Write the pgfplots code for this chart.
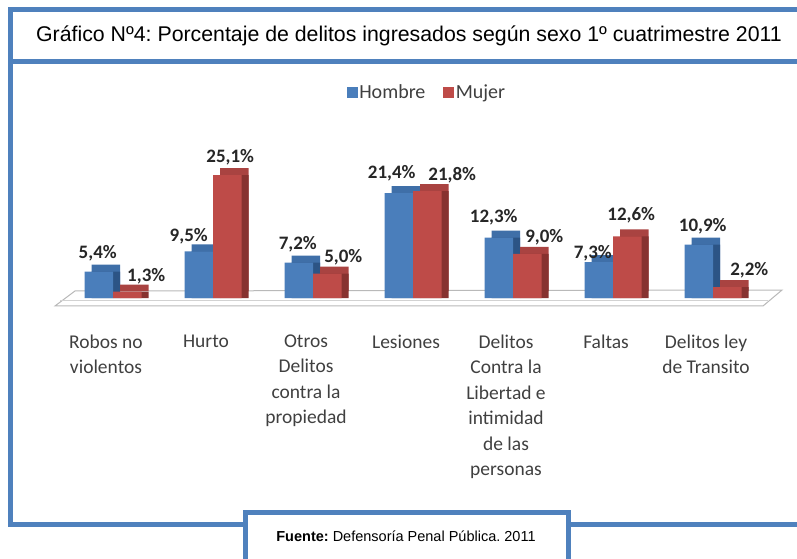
\documentclass[border=0pt]{standalone}
\usepackage{fontspec}
\usepackage{pgfplots}
\usepackage{pgfplotstable}
\pgfplotsset{compat=1.18}
\setmainfont{Liberation Sans}
\newfontfamily\calfont{Carlito}
\frenchspacing

\definecolor{frame}{HTML}{4F81BD}
\definecolor{hfront}{HTML}{4A7EBB}
\definecolor{htop}{HTML}{3F6FA8}
\definecolor{hside}{HTML}{2C5485}
\definecolor{mfront}{HTML}{BE4B48}
\definecolor{mtop}{HTML}{A94341}
\definecolor{mside}{HTML}{873230}
\definecolor{lbl}{HTML}{404040}

\pgfplotstableread{
x y dx dy
0 5.4 -1 18
1 9.5 -10 15
2 7.2 -1 18
3 21.4 -7 20
4 12.3 -5 20
5 7.3 -6 9
6 10.9 4 18
}\hombre
\pgfplotstableread{
x y dx dy
0 1.3 19 15
1 25.1 3 18
2 5.0 16 16
3 21.8 25 16
4 9.0 17 17
5 12.6 4 21
6 2.2 22 17
}\mujer

\pgfplotsset{
  vlabel/.style={draw=none, mark=none, forget plot, point meta=explicit,
    nodes near coords={\pgfmathprintnumber[fixed, fixed zerofill, precision=1, use comma, assume math mode=true]{\pgfplotspointmeta}\%},
    every node near coord/.append style={anchor=center, font=\calfont\bfseries\fontsize{19}{19}\selectfont, text=black!85, inner sep=0pt}},
}

\begin{document}
\begin{tikzpicture}
\useasboundingbox (0,0) rectangle (797pt,558pt);
\fill[white] (0,0) rectangle (797pt,558pt);
% frame
\draw[frame, line width=5pt] (797pt,548pt) -- (10pt,548pt) -- (10pt,34pt) -- (797pt,34pt);
\draw[frame, line width=5pt] (10pt,496pt) -- (797pt,496pt);
\node[font=\fontsize{21.3}{21.3}\selectfont, inner sep=0pt] at (409pt,522pt) {Gráfico Nº4: Porcentaje de delitos ingresados según sexo 1º cuatrimestre 2011};

\begin{axis}[
  x=100pt, y=4.9pt,
  at={(53pt,250.2pt)}, anchor=south west,
  xmin=-0.6, xmax=6.75, ymin=-2, ymax=30,
  clip=false,
  axis line style={draw=none},
  major tick length=0pt,
  ytick=\empty,
  xtick={0,...,6},
  xticklabels={{Robos no\\violentos},{Hurto},{Otros\\Delitos\\contra la\\propiedad},{Lesiones},{Delitos\\Contra la\\Libertad e\\intimidad\\de las\\personas},{Faltas},{Delitos ley\\de Transito}},
  xticklabel style={font=\calfont\fontsize{19.5}{25.5}\selectfont, text=lbl, align=center, anchor=north, yshift=-23.5pt, xshift=-7pt},
  bar width=0.285,
  legend style={at={(axis cs:3.14,42)}, anchor=center, draw=none, fill=none,
    legend columns=2, font=\calfont\fontsize{20}{20}\selectfont, text=lbl,
    /tikz/every even column/.append style={column sep=16pt}},
]
% floor
\draw[gray!55, line width=1pt, fill=white] (axis cs:-0.58,-1.63) -- (axis cs:-0.38,1.43) -- (axis cs:6.69,1.63) -- (axis cs:6.50,-1.63) -- cycle;
\draw[gray!35, line width=1pt] (axis cs:-0.53,-0.61) -- (axis cs:6.55,-0.61);

% Hombre 3D layers
\addplot[ybar, bar shift=-0.1425, fill=htop, draw=none, forget plot, xshift=7pt, yshift=7pt] table[x=x,y=y]{\hombre};
\addplot[ybar, bar shift=-0.1425, fill=hside, draw=none, forget plot, xshift=7pt] table[x=x,y=y]{\hombre};
\addplot[ybar, bar shift=-0.1425, fill=hfront, draw=none, forget plot] table[x=x,y=y]{\hombre};

% Mujer 3D layers
\addplot[ybar, bar shift=0.1425, fill=mtop, draw=none, forget plot, xshift=7pt, yshift=7pt] table[x=x,y=y]{\mujer};
\addplot[ybar, bar shift=0.1425, fill=mside, draw=none, forget plot, xshift=7pt] table[x=x,y=y]{\mujer};
\addplot[ybar, bar shift=0.1425, fill=mfront, draw=none, forget plot] table[x=x,y=y]{\mujer};

% value labels
\addplot[vlabel] table[x expr=\thisrow{x}-0.1425+\thisrow{dx}/100, y expr=\thisrow{y}+\thisrow{dy}/4.9, meta=y]{\hombre};
\addplot[vlabel] table[x expr=\thisrow{x}+0.1425+\thisrow{dx}/100, y expr=\thisrow{y}+\thisrow{dy}/4.9, meta=y]{\mujer};

\addlegendimage{legend image code/.code={\fill[hfront] (0pt,-5pt) rectangle (10pt,5pt);}}
\addlegendentry{Hombre}
\addlegendimage{legend image code/.code={\fill[mfront] (0pt,-5pt) rectangle (10pt,5pt);}}
\addlegendentry{Mujer}
\end{axis}

\draw[frame, line width=5pt, fill=white] (245pt,-5pt) rectangle (568pt,46pt);
\node[font=\fontsize{14.5}{14.5}\selectfont, inner sep=0pt] at (406pt,22pt) {\textbf{Fuente:} Defensoría Penal Pública. 2011};
\end{tikzpicture}
\end{document}
